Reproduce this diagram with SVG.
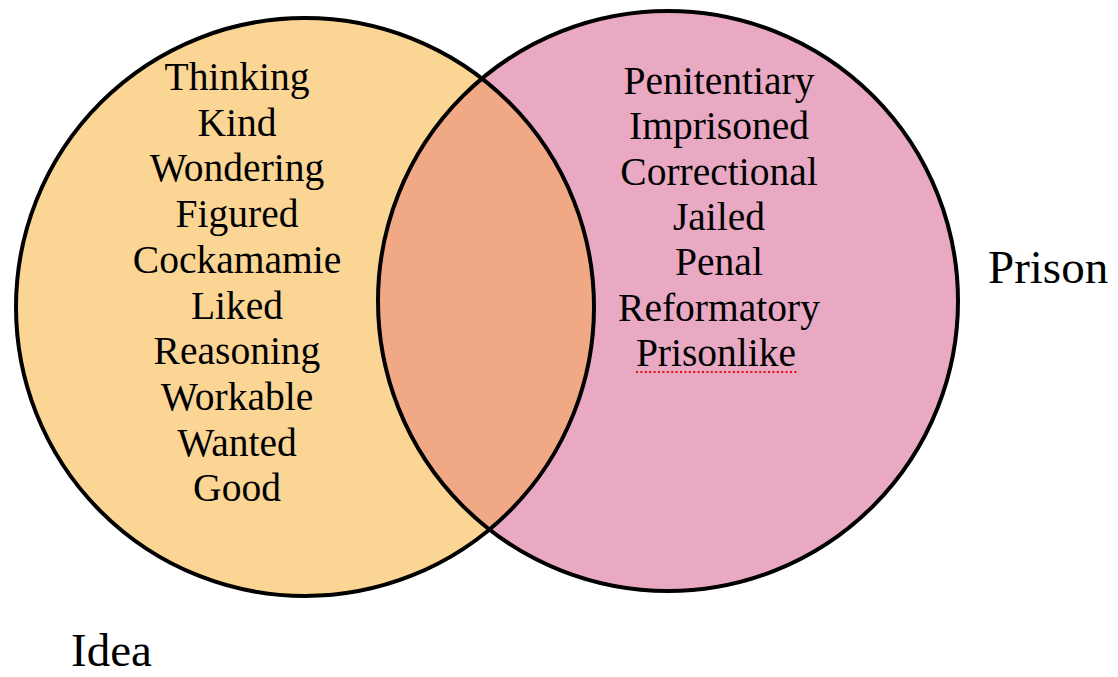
<svg xmlns="http://www.w3.org/2000/svg" width="1118" height="677" viewBox="0 0 1118 677">
  <style>
    .ring { fill: none; stroke: #000; stroke-width: 4; }
    .word { font-family: "Liberation Serif", "Times New Roman", serif; font-size: 39.5px; fill: #000; text-anchor: middle; }
    .title { font-family: "Liberation Serif", "Times New Roman", serif; font-size: 47px; fill: #000; }
  </style>
  <defs>
    <clipPath id="clip-idea">
      <circle cx="305" cy="307" r="289"/>
    </clipPath>
  </defs>

  <!-- set fills -->
  <g id="idea-set">
    <circle cx="305" cy="307" r="289" fill="#FBD594"/>
  </g>
  <g id="prison-set">
    <circle cx="668" cy="301" r="290" fill="#E9A9C3"/>
  </g>
  <g id="overlap">
    <circle cx="668" cy="301" r="290" fill="#F1A884" clip-path="url(#clip-idea)"/>
  </g>

  <!-- outlines -->
  <g id="outlines">
    <circle class="ring" cx="305" cy="307" r="289"/>
    <circle class="ring" cx="668" cy="301" r="290"/>
  </g>

  <!-- words for "Idea" -->
  <g id="idea-words" class="word">
    <text x="237" y="90">Thinking</text>
    <text x="237" y="135.7">Kind</text>
    <text x="237" y="181.4">Wondering</text>
    <text x="237" y="227.1">Figured</text>
    <text x="237" y="272.8">Cockamamie</text>
    <text x="237" y="318.5">Liked</text>
    <text x="237" y="364.2">Reasoning</text>
    <text x="237" y="409.9">Workable</text>
    <text x="237" y="455.6">Wanted</text>
    <text x="237" y="501.3">Good</text>
  </g>

  <!-- words for "Prison" -->
  <g id="prison-words" class="word">
    <text x="719" y="94">Penitentiary</text>
    <text x="719" y="139.3">Imprisoned</text>
    <text x="719" y="184.6">Correctional</text>
    <text x="719" y="229.9">Jailed</text>
    <text x="719" y="275.2">Penal</text>
    <text x="719" y="320.5">Reformatory</text>
    <text x="716" y="365.8">Prisonlike</text>
    <line x1="636" y1="372" x2="797" y2="372" stroke="#E81010" stroke-width="2.2" stroke-dasharray="2 2.4"/>
  </g>

  <!-- set labels -->
  <g id="label-prison">
    <text class="title" x="988" y="283">Prison</text>
  </g>
  <g id="label-idea">
    <text class="title" x="71" y="666">Idea</text>
  </g>
</svg>
